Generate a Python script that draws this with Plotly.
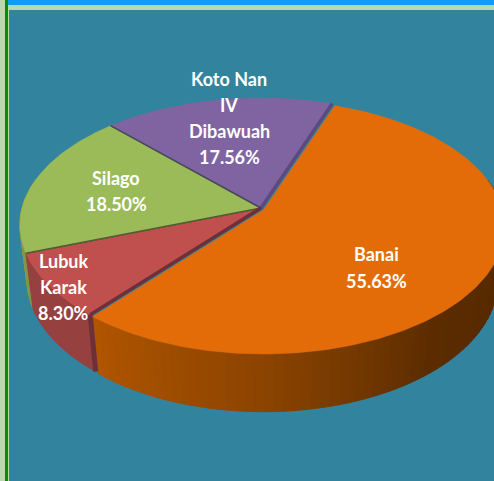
import math
import plotly.graph_objects as go

categories = ["Banai", "Lubuk Karak", "Silago", "Koto Nan IV Dibawuah"]
percent_values = [55.63, 8.30, 18.50, 17.56]
label_lines = [["Banai", "55.63%"], ["Lubuk", "Karak", "8.30%"],
               ["Silago", "18.50%"], ["Koto Nan", "IV", "Dibawuah", "17.56%"]]

# styling / layout (not data)
face_colors = ["#E36C09", "#C0504D", "#9BBB59", "#8064A2"]
edge_colors = ["#8A4200", "#6A3A3E", "#4E5E32", "#4A4A5E"]
label_centres = [(376.5, 254), (63, 261), (116, 178), (229, 79)]
line_steps = [27, 26, 26, 26]
W, H = 494, 481
CX, CY, A, B, K = 261, 208, 239, 124.7, 0.134
DEPTH, TAPER = 56, 0.03
START = 19.6
OFFSETS = [(2.5, 2.0), (0, 0), (0, 0), (0, 0)]


def top(t, off=(0, 0), r=1.0):
    X, Y = r * math.sin(t), r * math.cos(t)
    w = 1 + K * Y
    return CX + off[0] + A * X / w, CY + off[1] - B * Y / w


def bottom(t, off=(0, 0)):
    X, Y = math.sin(t), math.cos(t)
    w = 1 + K * Y + TAPER
    return CX + off[0] + A * X / w, CY + off[1] - B * Y / w + DEPTH / w


def lerp_hex(stops, f):
    f = max(0, min(1, f))
    n = len(stops) - 1
    i = min(int(f * n), n - 1)
    u = f * n - i
    a, b = stops[i], stops[i + 1]
    return "rgb(%d,%d,%d)" % tuple(round(a[j] + (b[j] - a[j]) * u) for j in range(3))


wall_stops = [
    [(86, 40, 0), (86, 40, 0), (86, 40, 0), (92, 44, 0), (140, 68, 0), (178, 86, 0)],
    [(150, 64, 64), (150, 64, 64)],
    [(128, 152, 72), (128, 152, 72)],
    [(90, 70, 120), (90, 70, 120)],
]

spans = []
angle = START
for v in percent_values:
    d = v / sum(percent_values) * 360
    spans.append((math.radians(angle), math.radians(angle + d)))
    angle += d

fig = go.Figure()
quads = []
for idx, (t0, t1) in enumerate(spans):
    n = max(6, int((t1 - t0) / math.radians(2)))
    for s in range(n):
        a0 = t0 + (t1 - t0) * s / n
        a1 = t0 + (t1 - t0) * (s + 1) / n
        # only the front half of the wall can be seen
        if math.cos((a0 + a1) / 2) > 0.25:
            continue
        quads.append((math.cos((a0 + a1) / 2), idx, a0, a1, s / n))
quads.sort(reverse=True)
for _, idx, a0, a1, f in quads:
    off = OFFSETS[idx]
    p = [top(a0, off), top(a1, off), bottom(a1, off), bottom(a0, off)]
    xs = [q[0] for q in p] + [p[0][0]]
    ys = [q[1] for q in p] + [p[0][1]]
    col = lerp_hex(wall_stops[idx], f)
    fig.add_trace(go.Scatter(x=xs, y=ys, mode="lines", fill="toself", fillcolor=col,
                             line=dict(color=col, width=1), hoverinfo="skip", showlegend=False))

# cut face seen between the small slice and the larger slice
t_end = spans[0][1]
p0, p1 = top(t_end), bottom(t_end)
fig.add_trace(go.Scatter(x=[p0[0], p1[0]], y=[p0[1], p1[1]], mode="lines",
                         line=dict(color="#6E3038", width=5), hoverinfo="skip", showlegend=False))

draw_order = [1, 2, 3, 0]
for idx in draw_order:
    t0, t1 = spans[idx]
    off = OFFSETS[idx]
    n = max(12, int((t1 - t0) / math.radians(1)))
    pts = [top(t0 + (t1 - t0) * s / n, off) for s in range(n + 1)]
    xs = [CX + off[0]] + [q[0] for q in pts] + [CX + off[0]]
    ys = [CY + off[1]] + [q[1] for q in pts] + [CY + off[1]]
    if idx != 0:
        fig.add_trace(go.Scatter(x=xs, y=ys, mode="lines", fill="toself", fillcolor=face_colors[idx],
                                 line=dict(color=face_colors[idx], width=0.5),
                                 hoverinfo="skip", showlegend=False, name=categories[idx]))
        fig.add_trace(go.Scatter(x=[pts[-1][0], CX, pts[0][0]], y=[pts[-1][1], CY, pts[0][1]], mode="lines",
                                 line=dict(color=edge_colors[idx], width=1.5),
                                 hoverinfo="skip", showlegend=False))
    else:
        for t, c in ((t0, "#5A4A80"), (t1, "#6E3038")):
            e = top(t)
            fig.add_trace(go.Scatter(x=[CX, e[0]], y=[CY, e[1]], mode="lines",
                                     line=dict(color=c, width=3.5),
                                     hoverinfo="skip", showlegend=False))
        fig.add_trace(go.Scatter(x=xs, y=ys, mode="lines", fill="toself", fillcolor=face_colors[idx],
                                 line=dict(color=face_colors[idx], width=0.5),
                                 hoverinfo="skip", showlegend=False, name=categories[idx]))

annotations = []
for lines, (cx, cy), step in zip(label_lines, label_centres, line_steps):
    for i, line in enumerate(lines):
        annotations.append(dict(x=cx, y=cy + i * step, text=line, showarrow=False,
                                xref="x", yref="y", xanchor="center", yanchor="middle",
                                font=dict(family="Lato", size=18, color="#FFFFFF", weight="bold")))

shapes = [
    dict(type="rect", xref="x", yref="y", x0=5, x1=8, y0=0, y1=H, fillcolor="#0C8A10", line_width=0, layer="below"),
    dict(type="rect", xref="x", yref="y", x0=8, x1=W, y0=0, y1=5, fillcolor="#0E9BFB", line_width=0, layer="below"),
    dict(type="rect", xref="x", yref="y", x0=9, x1=W, y0=10, y1=H, fillcolor="#31839E", line_width=0, layer="below"),
]

fig.update_layout(
    width=W, height=H, margin=dict(l=0, r=0, t=0, b=0),
    paper_bgcolor="#B5DAB0", plot_bgcolor="#B5DAB0", showlegend=False,
    xaxis=dict(range=[0, W], visible=False, fixedrange=True),
    yaxis=dict(range=[H, 0], visible=False, fixedrange=True),
    annotations=annotations, shapes=shapes,
)
fig.write_html("out.html", config=dict(displayModeBar=False),
               post_script="document.body.style.margin='0';document.documentElement.style.overflow='hidden';")
